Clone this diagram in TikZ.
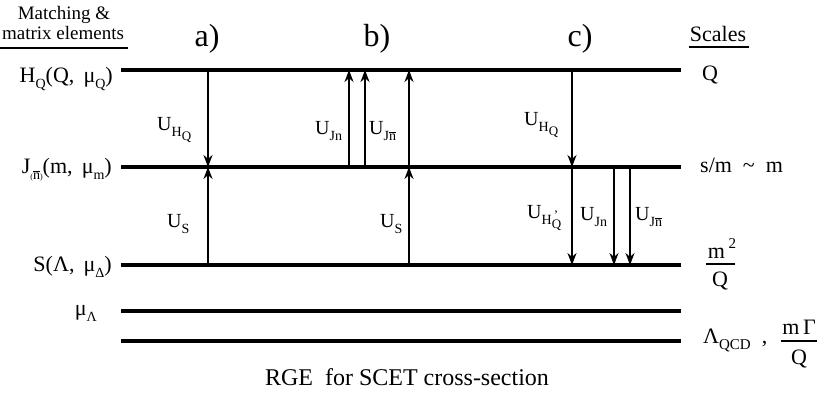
\documentclass[tikz,border=0pt]{standalone}
\usepackage{fontspec}
\setmainfont{Liberation Serif}
\usetikzlibrary{arrows.meta}
\newcommand\lo[1]{\raisebox{-0.3em}{\fontsize{14}{14}\selectfont #1}}
\newcommand\lolo[1]{\raisebox{-0.3em}{\fontsize{13}{13}\selectfont #1}}
\newcommand\nbar{\ensuremath{\overline{\hbox{n}}}}
\newcommand\tinyp[1]{{\fontsize{8}{8}\selectfont #1}}
\begin{document}
\begin{tikzpicture}[x=1pt,y=-1pt,
  level/.style={line width=4pt},
  flow/.style={line width=1.9pt,-{Stealth[length=12pt,width=9pt]}},
  rule/.style={line width=1.6pt},
  hdr/.style={font=\fontsize{19}{22}\selectfont, inner sep=0pt},
  lbl/.style={font=\fontsize{22}{26}\selectfont, inner sep=0pt},
  ulbl/.style={font=\fontsize{20}{24}\selectfont, inner sep=0pt},
  tag/.style={font=\fontsize{32}{36}\selectfont, inner sep=0pt}]
\useasboundingbox (0,0) rectangle (817,394);
% level lines
\coordinate (H0) at (121,70);  \coordinate (H1) at (681,70);
\coordinate (J0) at (121,167); \coordinate (J1) at (681,167);
\coordinate (S0) at (121,265); \coordinate (S1) at (681,265);
\coordinate (M0) at (121,311); \coordinate (M1) at (681,311);
\coordinate (L0) at (121,341); \coordinate (L1) at (681,341);
\foreach \a/\b in {H0/H1,J0/J1,S0/S1,M0/M1,L0/L1} \draw[level] (\a) -- (\b);
% headers
\node[hdr,anchor=base] (match) at (64,19) {Matching \&};
\node[hdr,anchor=base] (matrix) at (63,39) {matrix elements};
\coordinate (ul0) at (0,48); \coordinate (ul1) at (128,48);
\draw[rule] (ul0) -- (ul1);
\node[lbl,anchor=base] (scales) at (718,41) {Scales};
\coordinate (us0) at (689,47); \coordinate (us1) at (749,47);
\draw[rule] (us0) -- (us1);
\node[tag,anchor=base] (ta) at (207,46) {a)};
\node[tag,anchor=base] (tb) at (377,46) {b)};
\node[tag,anchor=base] (tc) at (580,46) {c)};
% left labels
\node[lbl,anchor=base east] (lH) at (113,82) {H\lo{Q}(Q,\, μ\lo{Q})};
\node[lbl,anchor=base east] (lJ) at (112,173) {J\lo{\tinyp{(}\nbar\tinyp{)}}(m,\, μ\lo{m})};
\node[lbl,anchor=base east] (lS) at (112,271) {S(Λ,\, μ\lo{Δ})};
\node[lbl,anchor=base east] (lM) at (97,315) {μ\lo{Λ}};
% right scales
\node[lbl,anchor=base] (sQ) at (710,80) {Q};
\node[lbl,anchor=base west] (sJ) at (700,172) {s/m \ \textasciitilde\ \ m};
\node[lbl,anchor=base] (sSn) at (722,258) {m\,\raisebox{0.45em}{\fontsize{15}{15}\selectfont 2}};
\coordinate (fb0) at (706,264); \coordinate (fb1) at (735,264);
\draw[rule] (fb0) -- (fb1);
\node[lbl,anchor=base] (sSd) at (720,286) {Q};
\node[lbl,anchor=base west] (sL) at (703,343) {Λ\raisebox{-0.3em}{\fontsize{15}{15}\selectfont QCD}\ \ ,};
\node[lbl,anchor=base] (sLn) at (799,334) {m\,Γ};
\coordinate (gb0) at (781,341); \coordinate (gb1) at (817,341);
\draw[rule] (gb0) -- (gb1);
\node[lbl,anchor=base] (sLd) at (799,364) {Q};
% arrow anchor points
\coordinate (aH) at (208,70);  \coordinate (aJ) at (208,167); \coordinate (aS) at (208,265);
\coordinate (b1J) at (349,167); \coordinate (b1H) at (349,70);
\coordinate (b2J) at (365,167); \coordinate (b2H) at (365,70);
\coordinate (b3S) at (409,265); \coordinate (b3J) at (409,167); \coordinate (b3H) at (409,70);
\coordinate (c1H) at (572,70); \coordinate (c1J) at (572,167); \coordinate (c1S) at (572,265);
\coordinate (c2J) at (614,167); \coordinate (c2S) at (614,265);
\coordinate (c3J) at (630,167); \coordinate (c3S) at (630,265);
% a)
\draw[flow] (aH) -- (aJ);
\draw[flow] (aS) -- (aJ);
\node[ulbl,anchor=base west] (ua1) at (157,130) {U\lo{H\lolo{Q}}};
\node[ulbl,anchor=base west] (ua2) at (167,227) {U\lo{S}};
% b)
\draw[flow] (b1J) -- (b1H);
\draw[flow] (b2J) -- (b2H);
\draw[flow] (b3S) -- (b3J);
\draw[flow] (b3J) -- (b3H);
\node[ulbl,anchor=base west] (ub1) at (315,134) {U\lo{Jn}};
\node[ulbl,anchor=base west] (ub2) at (369,134) {U\lo{J\nbar}};
\node[ulbl,anchor=base west] (ub3) at (380,227) {U\lo{S}};
% c)
\draw[flow] (c1H) -- (c1J);
\draw[flow] (c1J) -- (c1S);
\draw[flow] (c2J) -- (c2S);
\draw[flow] (c3J) -- (c3S);
\node[ulbl,anchor=base west] (uc1) at (524,125) {U\lo{H\lolo{Q}}};
\node[ulbl,anchor=base west] (uc2) at (527,218) {U\lo{H\lolo{\rlap{\raisebox{0.7em}{\,\textquoteright}}Q}}};
\node[ulbl,anchor=base west] (uc3) at (580,220) {U\lo{Jn}};
\node[ulbl,anchor=base west] (uc4) at (635,220) {U\lo{J\nbar}};
% caption
\node[font=\fontsize{24}{28}\selectfont, inner sep=0pt, anchor=base] (cap) at (407,385) {RGE\ \ for SCET cross-section};
\end{tikzpicture}
\end{document}
